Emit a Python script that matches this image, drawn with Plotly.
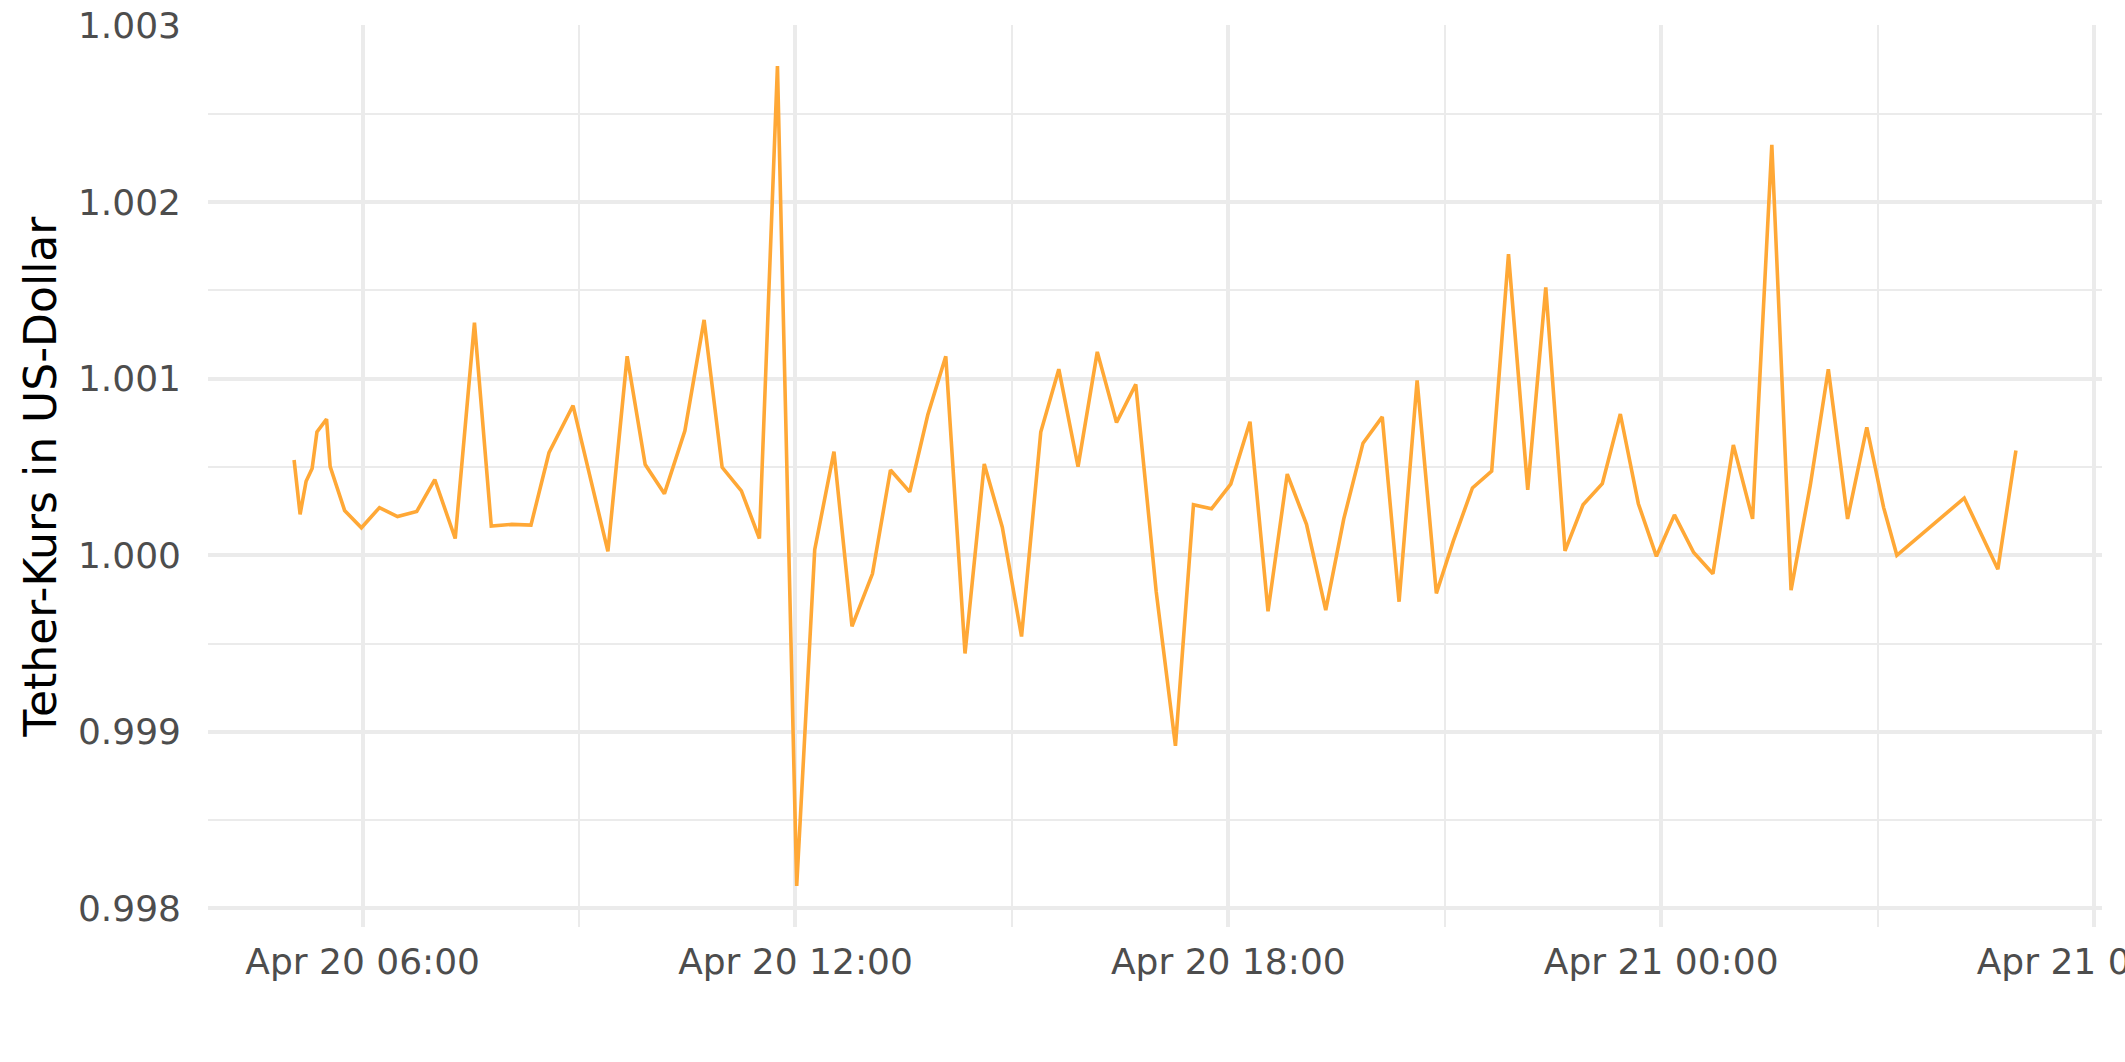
import pandas as pd
import plotly.graph_objects as go

# --- Data ---
timestamps = [
    "2022-04-20 05:03", "2022-04-20 05:08", "2022-04-20 05:13", "2022-04-20 05:18",
    "2022-04-20 05:22", "2022-04-20 05:30", "2022-04-20 05:33", "2022-04-20 05:45",
    "2022-04-20 05:59", "2022-04-20 06:14", "2022-04-20 06:29", "2022-04-20 06:45",
    "2022-04-20 07:00", "2022-04-20 07:17", "2022-04-20 07:33", "2022-04-20 07:47",
    "2022-04-20 08:04", "2022-04-20 08:20", "2022-04-20 08:35", "2022-04-20 08:55",
    "2022-04-20 09:24", "2022-04-20 09:40", "2022-04-20 09:55", "2022-04-20 10:11",
    "2022-04-20 10:28", "2022-04-20 10:44", "2022-04-20 10:59", "2022-04-20 11:15",
    "2022-04-20 11:30", "2022-04-20 11:45", "2022-04-20 12:01", "2022-04-20 12:16",
    "2022-04-20 12:32", "2022-04-20 12:47", "2022-04-20 13:04", "2022-04-20 13:19",
    "2022-04-20 13:35", "2022-04-20 13:50", "2022-04-20 14:05", "2022-04-20 14:21",
    "2022-04-20 14:37", "2022-04-20 14:52", "2022-04-20 15:08", "2022-04-20 15:24",
    "2022-04-20 15:39", "2022-04-20 15:55", "2022-04-20 16:11", "2022-04-20 16:27",
    "2022-04-20 16:43", "2022-04-20 17:00", "2022-04-20 17:16", "2022-04-20 17:31",
    "2022-04-20 17:46", "2022-04-20 18:02", "2022-04-20 18:18", "2022-04-20 18:33",
    "2022-04-20 18:49", "2022-04-20 19:05", "2022-04-20 19:21", "2022-04-20 19:36",
    "2022-04-20 19:52", "2022-04-20 20:08", "2022-04-20 20:22", "2022-04-20 20:37",
    "2022-04-20 20:53", "2022-04-20 21:07", "2022-04-20 21:23", "2022-04-20 21:39",
    "2022-04-20 21:53", "2022-04-20 22:09", "2022-04-20 22:24", "2022-04-20 22:40",
    "2022-04-20 22:55", "2022-04-20 23:11", "2022-04-20 23:26", "2022-04-20 23:41",
    "2022-04-20 23:56", "2022-04-21 00:11", "2022-04-21 00:27", "2022-04-21 00:43",
    "2022-04-21 01:00", "2022-04-21 01:16", "2022-04-21 01:32", "2022-04-21 01:48",
    "2022-04-21 02:04", "2022-04-21 02:19", "2022-04-21 02:35", "2022-04-21 02:51",
    "2022-04-21 03:05", "2022-04-21 03:16", "2022-04-21 04:12", "2022-04-21 04:40",
    "2022-04-21 04:55",
]

price_usd = [
    1.000540, 1.000232, 1.000419, 1.000492,
    1.000698, 1.000771, 1.000502, 1.000254,
    1.000156, 1.000270, 1.000219, 1.000248,
    1.000429, 1.000095, 1.001317, 1.000165,
    1.000175, 1.000171, 1.000581, 1.000848,
    1.000022, 1.001127, 1.000514, 1.000349,
    1.000705, 1.001333, 1.000498, 1.000365,
    1.000095, 1.002771, 0.998127, 1.000032,
    1.000587, 0.999597, 0.999895, 1.000483,
    1.000359, 1.000794, 1.001127, 0.999444,
    1.000517, 1.000159, 0.999540, 1.000698,
    1.001054, 1.000502, 1.001152, 1.000752,
    1.000968, 0.999794, 0.998921, 1.000286,
    1.000263, 1.000403, 1.000756, 0.999683,
    1.000460, 1.000175, 0.999689, 1.000206,
    1.000635, 1.000784, 0.999737, 1.000990,
    0.999784, 1.000079, 1.000381, 1.000476,
    1.001705, 1.000371, 1.001517, 1.000025,
    1.000286, 1.000406, 1.000800, 1.000292,
    0.999994, 1.000229, 1.000016, 0.999895,
    1.000625, 1.000206, 1.002324, 0.999803,
    1.000397, 1.001054, 1.000206, 1.000724,
    1.000270, 1.000000, 1.000324, 0.999921,
    1.000594,
]

y_tick_values = [0.998, 0.999, 1.000, 1.001, 1.002, 1.003]
y_axis_title = "Tether-Kurs in US-Dollar"

# --- Figure ---
t = pd.to_datetime(pd.Series(timestamps))
tmin, tmax = t.min(), t.max()
tpad = (tmax - tmin) * 0.05
ymin, ymax = min(price_usd), max(price_usd)
ypad = (ymax - ymin) * 0.05

GRID = "#EBEBEB"
TXT = "#4D4D4D"
FONT = "DejaVu Sans"

fig = go.Figure()
fig.add_trace(go.Scatter(
    x=t, y=price_usd, mode="lines",
    line=dict(color="#FFA836", width=3.6),
    hoverinfo="x+y",
))

fig.update_layout(
    width=2125, height=1062,
    margin=dict(l=208, r=23, t=25, b=135, autoexpand=False),
    plot_bgcolor="white", paper_bgcolor="white",
    showlegend=False,
    font=dict(family=FONT, color=TXT),
    xaxis=dict(
        type="date",
        range=[tmin - tpad, tmax + tpad],
        tick0="2022-04-20 00:00", dtick=6 * 3600 * 1000,
        tickformat="%b %d %H:%M",
        showgrid=True, gridcolor=GRID, gridwidth=3.5,
        minor=dict(dtick=3 * 3600 * 1000, tick0="2022-04-20 00:00",
                   showgrid=True, gridcolor=GRID, gridwidth=1.8),
        zeroline=False, showline=False, ticks="",
        tickfont=dict(family=FONT, size=36, color=TXT),
        ticklabelstandoff=10,
        ticklabeloverflow="allow",
        automargin=False,
    ),
    yaxis=dict(
        range=[ymin - ypad, ymax + ypad],
        tickvals=y_tick_values,
        tickformat=".3f",
        showgrid=True, gridcolor=GRID, gridwidth=3.5,
        minor=dict(dtick=0.0005, tick0=0.998,
                   showgrid=True, gridcolor=GRID, gridwidth=1.8),
        zeroline=False, showline=False, ticks="",
        tickfont=dict(family=FONT, size=36, color=TXT),
        ticklabelstandoff=26,
        automargin=False,
    ),
    annotations=[dict(
        text=y_axis_title, xref="paper", yref="paper",
        x=-0.0885, y=0.5, xanchor="center", yanchor="middle",
        textangle=-90, showarrow=False,
        font=dict(family=FONT, size=44, color="black"),
    )],
)

fig.write_html("out.html", config={"displayModeBar": False},
               post_script="document.body.style.margin='0';")
